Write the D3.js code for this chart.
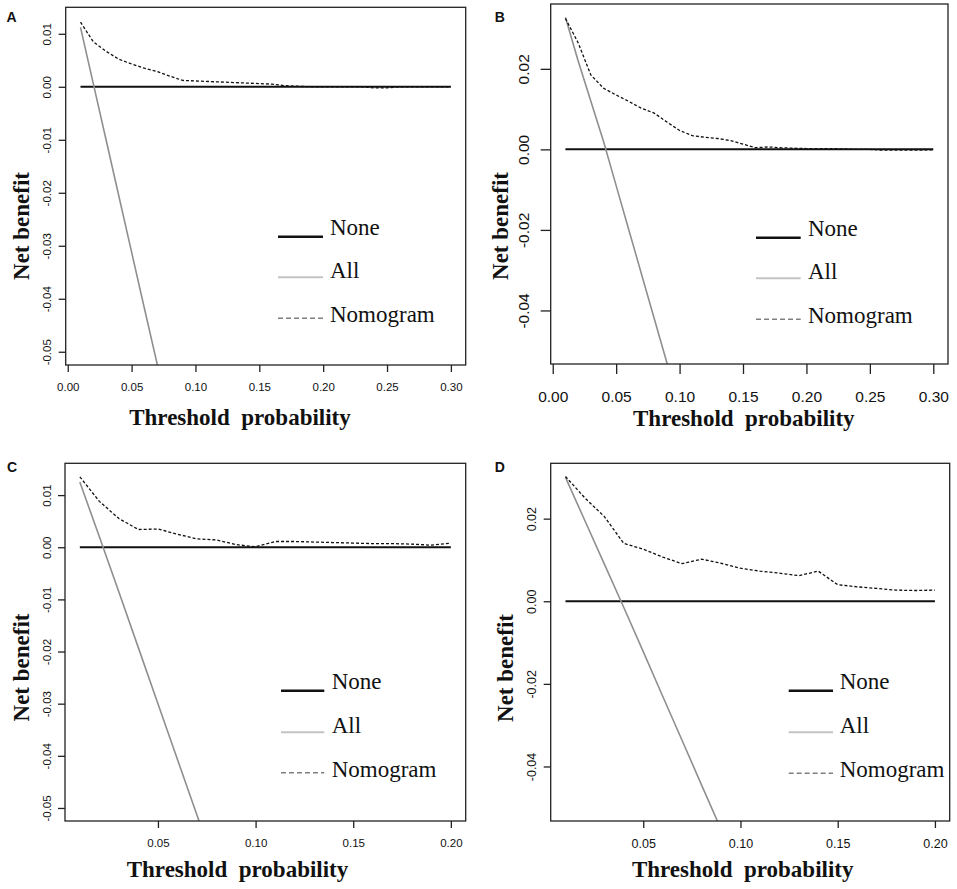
<!DOCTYPE html>
<html>
<head>
<meta charset="utf-8">
<script src="https://cdn.jsdelivr.net/npm/d3@7.9.0/dist/d3.min.js"></script>
<style>
  body { margin: 0; background: #fff; }
  svg { display: block; }
  .tick line { stroke: #222; }
</style>
</head>
<body>
<div id="chart"></div>
<script>
// thresholds used by the decision curves
const thresholdsAB = [0.01, 0.02, 0.03, 0.04, 0.05, 0.06, 0.07, 0.08, 0.09, 0.10,
  0.11, 0.12, 0.13, 0.14, 0.15, 0.16, 0.17, 0.18, 0.19, 0.20,
  0.21, 0.22, 0.23, 0.24, 0.25, 0.26, 0.27, 0.28, 0.29, 0.30];
const thresholdsCD = [0.01, 0.02, 0.03, 0.04, 0.05, 0.06, 0.07, 0.08, 0.09, 0.10,
  0.11, 0.12, 0.13, 0.14, 0.15, 0.16, 0.17, 0.18, 0.19, 0.20];

// nomogram net benefit
const nomogramA = [0.0122, 0.0085, 0.0067, 0.0052, 0.0043, 0.0035, 0.0029, 0.0020, 0.0012, 0.0011,
  0.0010, 0.0009, 0.0008, 0.0007, 0.0006, 0.0005, 0.0002, 0.0001, 0.0000, 0.0000,
  0.0000, 0.0000, 0.0000, -0.0002, -0.0002, 0.0000, 0.0000, 0.0000, 0.0000, 0.0000];
const nomogramB = [0.0325, 0.0265, 0.0185, 0.0152, 0.0135, 0.0119, 0.0102, 0.0090, 0.0068, 0.0047,
  0.0034, 0.0030, 0.0027, 0.0022, 0.0013, 0.0004, 0.0006, 0.0004, 0.0003, 0.0002,
  0.0002, 0.0002, 0.0001, 0.0000, 0.0000, -0.0002, -0.0002, -0.0002, -0.0002, -0.0001];
const nomogramC = [0.0135, 0.0088, 0.0055, 0.0034, 0.0035, 0.0025, 0.0016, 0.0014, 0.0005, 0.0001,
  0.0011, 0.0011, 0.0010, 0.0009, 0.0008, 0.0007, 0.0007, 0.0006, 0.0004, 0.0008];
const nomogramD = [0.0302, 0.0250, 0.0205, 0.0140, 0.0126, 0.0107, 0.0091, 0.0102, 0.0092, 0.0080,
  0.0073, 0.0068, 0.0062, 0.0073, 0.0040, 0.0035, 0.0031, 0.0027, 0.0026, 0.0027];

// treat-all net benefit (line leaves the panel at the bottom)
const allA = [0.0112, 0.0006, -0.0100, -0.0206, -0.0312, -0.0418, -0.0523, -0.0630];
const allB = [0.0328, 0.0220, 0.0120, 0.0020, -0.0090, -0.0200, -0.0310, -0.0420, -0.0530, -0.0640];
const allC = [0.0125, 0.0020, -0.0086, -0.0193, -0.0300, -0.0407, -0.0514, -0.0620];
const allD = [0.0300, 0.0195, 0.0090, -0.0015, -0.0122, -0.0230, -0.0337, -0.0445, -0.0552];

// tick values
const xTicksAB = [0, 0.05, 0.10, 0.15, 0.20, 0.25, 0.30];
const xTicksCD = [0.05, 0.10, 0.15, 0.20];
const yTicksAC = [-0.05, -0.04, -0.03, -0.02, -0.01, 0.00, 0.01];
const yTicksBD = [-0.04, -0.02, 0.00, 0.02];

const legendLabels = ['None', 'All', 'Nomogram'];
const xTitle = 'Threshold\u00a0 probability';
const yTitle = 'Net benefit';

const panels = [
  { tag: 'A', t: thresholdsAB, nomo: nomogramA, all: allA, xTicks: xTicksAB, yTicks: yTicksAC,
    left: 65.7, right: 465.7, top: 7.3, bottom: 365, xd: [-0.0016, 0.3116], yd: [-0.0525, 0.0150],
    fs: 11.5, tick: 7, xLab: 21.7, yLab: 19, tagPos: [6.5, 21.7], yTitlePos: [20.7, 226], xTitlePos: [240, 425],
    leg: { x1: 278, x2: 323, tx: 330, ys: [236.7, 277.3, 318.3] } },
  { tag: 'B', t: thresholdsAB, nomo: nomogramB, all: allB, xTicks: xTicksAB, yTicks: yTicksBD,
    left: 550.7, right: 948, top: 4, bottom: 364, xd: [-0.0016, 0.3116], yd: [-0.0533, 0.0361],
    fs: 15.5, tick: 10, xLab: 32.7, yLab: 27.3, tagPos: [494.7, 21.7], yTitlePos: [499.7, 226], xTitlePos: [743.8, 426],
    leg: { x1: 756, x2: 800.7, tx: 808, ys: [237.7, 278.3, 319.3] } },
  { tag: 'C', t: thresholdsCD, nomo: nomogramC, all: allC, xTicks: xTicksCD, yTicks: yTicksAC,
    left: 65, right: 465.7, top: 463.3, bottom: 821, xd: [0.0024, 0.2076], yd: [-0.0525, 0.0161],
    fs: 11.5, tick: 7, xLab: 22.3, yLab: 18.5, tagPos: [7, 471.7], yTitlePos: [20.7, 667.5], xTitlePos: [237.5, 876.7],
    leg: { x1: 281, x2: 324.3, tx: 331.7, ys: [690.7, 732.3, 772.7] } },
  { tag: 'D', t: thresholdsCD, nomo: nomogramD, all: allD, xTicks: xTicksCD, yTicks: yTicksBD,
    left: 550.7, right: 949.7, top: 463.3, bottom: 821, xd: [0.0024, 0.2076], yd: [-0.0532, 0.0334],
    fs: 12.5, tick: 7, xLab: 22.3, yLab: 19.4, tagPos: [494.7, 471.7], yTitlePos: [504.7, 668], xTitlePos: [742.7, 876.7],
    leg: { x1: 788.7, x2: 833, tx: 839.7, ys: [690.7, 732.3, 773.3] } }
];

const width = 957;
const height = 889;
const sans = '"Liberation Sans", Arial, Helvetica, sans-serif';
const serif = '"Liberation Serif", "Times New Roman", Times, serif';
const fmt = d => d3.format('.2f')(d).replace('\u2212', '-');

const svg = d3.select('#chart')
  .append('svg')
  .attr('width', width)
  .attr('height', height)
  .attr('viewBox', [0, 0, width, height]);

svg.append('rect').attr('width', width).attr('height', height).attr('fill', '#fff');

panels.forEach((p, i) => {
  const g = svg.append('g').attr('class', 'panel');

  const x = d3.scaleLinear().domain(p.xd).range([p.left, p.right]);
  const y = d3.scaleLinear().domain(p.yd).range([p.bottom, p.top]);

  const clipId = `clip-${i}`;
  g.append('clipPath').attr('id', clipId)
    .append('rect')
    .attr('x', p.left).attr('y', p.top)
    .attr('width', p.right - p.left).attr('height', p.bottom - p.top);

  const plot = g.append('g').attr('clip-path', `url(#${clipId})`);
  const line = d3.line().x(d => x(d[0])).y(d => y(d[1]));

  // None (net benefit 0)
  plot.append('path')
    .datum(p.t.map(t => [t, 0]))
    .attr('fill', 'none')
    .attr('stroke', '#111')
    .attr('stroke-width', 2)
    .attr('d', line);

  // All
  plot.append('path')
    .datum(p.all.map((v, j) => [p.t[j], v]))
    .attr('fill', 'none')
    .attr('stroke', '#8f8f8f')
    .attr('stroke-width', 1.6)
    .attr('d', line);

  // Nomogram
  plot.append('path')
    .datum(p.nomo.map((v, j) => [p.t[j], v]))
    .attr('fill', 'none')
    .attr('stroke', '#111')
    .attr('stroke-width', 1.3)
    .attr('stroke-dasharray', '3,2')
    .attr('d', line);

  // box
  g.append('rect')
    .attr('x', p.left).attr('y', p.top)
    .attr('width', p.right - p.left).attr('height', p.bottom - p.top)
    .attr('fill', 'none')
    .attr('stroke', '#222')
    .attr('stroke-width', 1.3);

  // x axis
  const xAxis = g.append('g')
    .attr('transform', `translate(0,${p.bottom})`)
    .call(d3.axisBottom(x).tickValues(p.xTicks).tickFormat(fmt).tickSize(p.tick).tickSizeOuter(0));
  xAxis.select('.domain').remove();
  xAxis.selectAll('.tick line').attr('stroke', '#222').attr('stroke-width', 1.3);
  xAxis.selectAll('.tick text')
    .attr('y', p.xLab)
    .attr('dy', '0.35em')
    .attr('fill', '#111')
    .style('font-family', sans)
    .style('font-size', `${p.fs}px`);

  // y axis, labels parallel to the axis as in R
  const yAxis = g.append('g')
    .attr('transform', `translate(${p.left},0)`)
    .call(d3.axisLeft(y).tickValues(p.yTicks).tickFormat(fmt).tickSize(p.tick).tickSizeOuter(0));
  yAxis.select('.domain').remove();
  yAxis.selectAll('.tick line').attr('stroke', '#222').attr('stroke-width', 1.3);
  yAxis.selectAll('.tick text')
    .attr('x', null)
    .attr('dy', null)
    .attr('text-anchor', 'middle')
    .attr('transform', `translate(${-p.yLab + 0.358 * p.fs},0) rotate(-90)`)
    .attr('fill', '#111')
    .style('font-family', sans)
    .style('font-size', `${p.fs}px`);

  // axis titles
  g.append('text')
    .attr('x', p.xTitlePos[0]).attr('y', p.xTitlePos[1])
    .attr('text-anchor', 'middle')
    .style('font-family', serif)
    .style('font-weight', 'bold')
    .style('font-size', '23px')
    .attr('fill', '#111')
    .text(xTitle);

  g.append('text')
    .attr('transform', `translate(${p.yTitlePos[0] + 0.34 * 23},${p.yTitlePos[1]}) rotate(-90)`)
    .attr('text-anchor', 'middle')
    .style('font-family', serif)
    .style('font-weight', 'bold')
    .style('font-size', '23px')
    .attr('fill', '#111')
    .text(yTitle);

  // panel letter
  g.append('text')
    .attr('x', p.tagPos[0]).attr('y', p.tagPos[1])
    .style('font-family', sans)
    .style('font-weight', 'bold')
    .style('font-size', '14px')
    .attr('fill', '#111')
    .text(p.tag);

  // legend
  const legStyles = [
    { stroke: '#111', w: 2.5, dash: null },
    { stroke: '#c4c4c4', w: 2, dash: null },
    { stroke: '#808080', w: 1.5, dash: '5,3' }
  ];
  const textShift = [-2, 1, 4];
  legendLabels.forEach((lab, k) => {
    g.append('line')
      .attr('x1', p.leg.x1).attr('x2', p.leg.x2)
      .attr('y1', p.leg.ys[k]).attr('y2', p.leg.ys[k])
      .attr('stroke', legStyles[k].stroke)
      .attr('stroke-width', legStyles[k].w)
      .attr('stroke-dasharray', legStyles[k].dash);
    g.append('text')
      .attr('x', p.leg.tx).attr('y', p.leg.ys[k] + textShift[k])
      .style('font-family', serif)
      .style('font-size', '23px')
      .attr('fill', '#111')
      .text(lab);
  });
});
</script>
</body>
</html>
